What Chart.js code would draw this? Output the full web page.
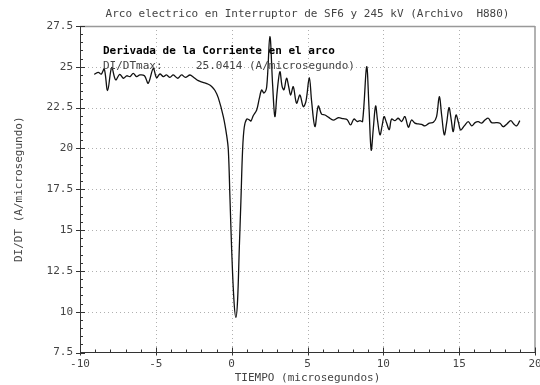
<!DOCTYPE html>
<html>
<head>
<meta charset="utf-8">
<script src="https://cdn.jsdelivr.net/npm/chart.js@4.4.1/dist/chart.umd.min.js"></script>
<style>
  html, body { margin: 0; padding: 0; background: #fff; }
  #wrap { width: 540px; height: 385px; }
</style>
</head>
<body>
<div id="wrap"><canvas id="chart" width="540" height="385"></canvas></div>
<script>
// tiempo en microsegundos, derivada en A/microsegundo
const tiempo = [
  -9.06, -8.79, -8.6, -8.4, -8.18, -7.91, -7.65, -7.38, -7.14, -6.92, -6.7, -6.49, -6.27, -6.05,
  -5.75, -5.5, -5.17, -4.95, -4.73, -4.5, -4.3, -4.07, -3.85, -3.56, -3.3, -3.05, -2.75, -2.5,
  -2.2, -1.9, -1.54, -1.32, -1.1, -0.88, -0.55, -0.33, -0.22, -0.11, 0.0, 0.15, 0.28, 0.39,
  0.5, 0.61, 0.72, 0.83, 0.99, 1.16, 1.27, 1.42, 1.65, 1.82, 1.98, 2.13, 2.31, 2.52, 2.7,
  2.85, 3.0, 3.18, 3.33, 3.45, 3.62, 3.76, 3.89, 4.06, 4.28, 4.5, 4.72, 4.9, 5.12, 5.27,
  5.49, 5.71, 5.93, 6.15, 6.4, 6.7, 7.03, 7.35, 7.62, 7.84, 8.06, 8.28, 8.46, 8.63, 8.9,
  9.05, 9.2, 9.34, 9.49, 9.62, 9.78, 9.93, 10.05, 10.2, 10.39, 10.54, 10.77, 10.98, 11.2,
  11.42, 11.65, 11.86, 12.08, 12.3, 12.52, 12.74, 13.03, 13.3, 13.51, 13.69, 13.85, 14.02,
  14.18, 14.33, 14.47, 14.61, 14.79, 14.95, 15.1, 15.35, 15.6, 15.83, 16.05, 16.26, 16.48,
  16.7, 16.92, 17.14, 17.45, 17.69, 17.91, 18.15, 18.4, 18.6, 18.79, 19.0
];
const didt = [
  24.54, 24.66, 24.55, 24.87, 23.55, 24.95, 24.2, 24.54, 24.3, 24.45, 24.4, 24.6, 24.4, 24.5,
  24.45, 24.0, 24.9, 24.33, 24.56, 24.4, 24.5, 24.35, 24.5, 24.3, 24.5, 24.35, 24.5, 24.35,
  24.15, 24.05, 23.93, 23.8, 23.55, 23.1, 21.95, 20.8, 19.9, 16.9, 13.8, 10.7, 9.65, 10.7,
  13.8, 16.8, 19.9, 21.3, 21.8, 21.75, 21.68, 22.0, 22.36, 23.05, 23.58, 23.4, 23.78, 26.85, 23.9,
  21.95, 23.48, 24.7, 23.78, 23.6, 24.3, 23.78, 23.27, 23.78, 22.77, 23.27, 22.56, 22.9, 24.34, 22.9,
  21.34, 22.6, 22.1, 22.05, 21.9, 21.74, 21.88, 21.82, 21.76, 21.44, 21.8, 21.65, 21.7, 21.65, 25.0,
  22.6, 19.9, 21.24, 22.6, 21.7, 20.83, 21.44, 21.95, 21.6, 21.15, 21.8, 21.7, 21.85, 21.65,
  21.95, 21.3, 21.74, 21.55, 21.5, 21.48, 21.38, 21.55, 21.6, 21.95, 23.17, 22.0, 20.83,
  21.6, 22.5, 21.8, 21.03, 22.05, 21.6, 21.13, 21.4, 21.64, 21.38, 21.58, 21.64, 21.55,
  21.74, 21.85, 21.58, 21.58, 21.54, 21.33, 21.5, 21.7, 21.5, 21.38, 21.7
];

const xTicks = [-10, -5, 0, 5, 10, 15, 20];
const yTicks = [7.5, 10, 12.5, 15, 17.5, 20, 22.5, 25, 27.5];

const titulo = 'Arco electrico en Interruptor de SF6 y 245 kV (Archivo  H880)';
const nota1 = 'Derivada de la Corriente en el arco';
const nota2 = 'DI/DTmax:';
const nota3 = '25.0414 (A/microsegundo)';
const tituloX = 'TIEMPO (microsegundos)';
const tituloY = 'DI/DT (A/microsegundo)';

const MONO = "'DejaVu Sans Mono', 'Liberation Mono', monospace";

// rejilla punteada en las divisiones principales
const rejilla = {
  id: 'rejilla',
  beforeDatasetsDraw(chart) {
    const { ctx, chartArea: a, scales: { x, y } } = chart;
    ctx.save();
    ctx.lineWidth = 1;
    ctx.setLineDash([1, 3]);
    ctx.strokeStyle = '#b0b0b0';
    ctx.beginPath();
    xTicks.slice(1, -1).forEach(t => {
      const px = Math.round(x.getPixelForValue(t)) + 0.5;
      ctx.moveTo(px, a.top);
      ctx.lineTo(px, a.bottom);
    });
    yTicks.slice(1, -1).forEach(v => {
      const py = Math.round(y.getPixelForValue(v)) + 0.5;
      ctx.moveTo(a.left, py);
      ctx.lineTo(a.right, py);
    });
    ctx.stroke();
    ctx.restore();
  }
};

// marco, ticks menores y textos
const marco = {
  id: 'marco',
  afterDraw(chart) {
    const { ctx, chartArea: a, scales: { x, y } } = chart;
    ctx.save();

    ctx.strokeStyle = '#999';
    ctx.lineWidth = 1.5;
    ctx.beginPath();
    ctx.moveTo(a.left, a.top + 0.5);
    ctx.lineTo(a.right, a.top + 0.5);
    ctx.moveTo(a.right, a.top);
    ctx.lineTo(a.right, a.bottom);
    ctx.stroke();

    ctx.strokeStyle = '#333';
    ctx.lineWidth = 1;
    ctx.beginPath();
    ctx.moveTo(a.left + 0.5, a.top);
    ctx.lineTo(a.left + 0.5, a.bottom);
    ctx.lineTo(a.right, a.bottom);
    for (let t = -10; t <= 20; t++) {
      const px = Math.round(x.getPixelForValue(t)) + 0.5;
      const major = t % 5 === 0;
      ctx.moveTo(px, a.bottom + (major ? 3 : 0));
      ctx.lineTo(px, a.bottom - (major ? 5 : 3));
    }
    for (let i = 0; i <= 40; i++) {
      const v = 7.5 + i * 0.5;
      const py = Math.round(y.getPixelForValue(v)) + 0.5;
      const major = i % 5 === 0;
      ctx.moveTo(a.left - (major ? 4 : 0), py);
      ctx.lineTo(a.left + (major ? 5 : 3), py);
    }
    ctx.stroke();

    ctx.textBaseline = 'middle';
    ctx.font = '11px ' + MONO;
    ctx.fillStyle = '#444';
    ctx.textAlign = 'center';
    ctx.fillText(titulo, (a.left + a.right) / 2, 14.5);
    ctx.fillText(tituloX, (a.left + a.right) / 2, 378);

    ctx.save();
    ctx.translate(19, (a.top + a.bottom) / 2);
    ctx.rotate(-Math.PI / 2);
    ctx.fillText(tituloY, 0, 0);
    ctx.restore();

    ctx.textAlign = 'left';
    ctx.fillStyle = '#000';
    ctx.font = 'bold 11px ' + MONO;
    ctx.fillText(nota1, 103, 51);
    ctx.font = '11px ' + MONO;
    ctx.fillStyle = '#444';
    ctx.fillText(nota2, 103, 66.5);
    ctx.fillText(nota3, 196, 66.5);

    ctx.restore();
  }
};

new Chart(document.getElementById('chart'), {
  type: 'line',
  data: {
    datasets: [{
      data: tiempo.map((t, i) => ({ x: t, y: didt[i] })),
      borderColor: '#111',
      borderWidth: 1.3,
      pointRadius: 0,
      tension: 0.35,
      fill: false
    }]
  },
  options: {
    responsive: false,
    animation: false,
    devicePixelRatio: 1,
    layout: { padding: { top: 26, right: 5, left: 0, bottom: 0 } },
    plugins: {
      legend: { display: false },
      tooltip: { enabled: false }
    },
    scales: {
      x: {
        type: 'linear',
        min: xTicks[0],
        max: xTicks[xTicks.length - 1],
        afterBuildTicks: s => { s.ticks = xTicks.map(v => ({ value: v })); },
        afterFit: s => { s.height = 32.5; s.paddingLeft = 0; s.paddingRight = 0; },
        ticks: {
          stepSize: 5,
          autoSkip: false,
          font: { family: MONO, size: 11 },
          color: '#444',
          padding: 5,
          maxRotation: 0
        },
        grid: { display: false, drawTicks: false },
        border: { display: false }
      },
      y: {
        min: yTicks[0],
        max: yTicks[yTicks.length - 1],
        afterBuildTicks: s => { s.ticks = yTicks.map(v => ({ value: v })); },
        afterFit: s => { s.width = 80; s.paddingTop = 0; s.paddingBottom = 0; },
        ticks: {
          stepSize: 2.5,
          autoSkip: false,
          font: { family: MONO, size: 11 },
          color: '#444',
          padding: 7,
          callback: v => String(v)
        },
        grid: { display: false, drawTicks: false },
        border: { display: false }
      }
    }
  },
  plugins: [rejilla, marco]
});
</script>
</body>
</html>
